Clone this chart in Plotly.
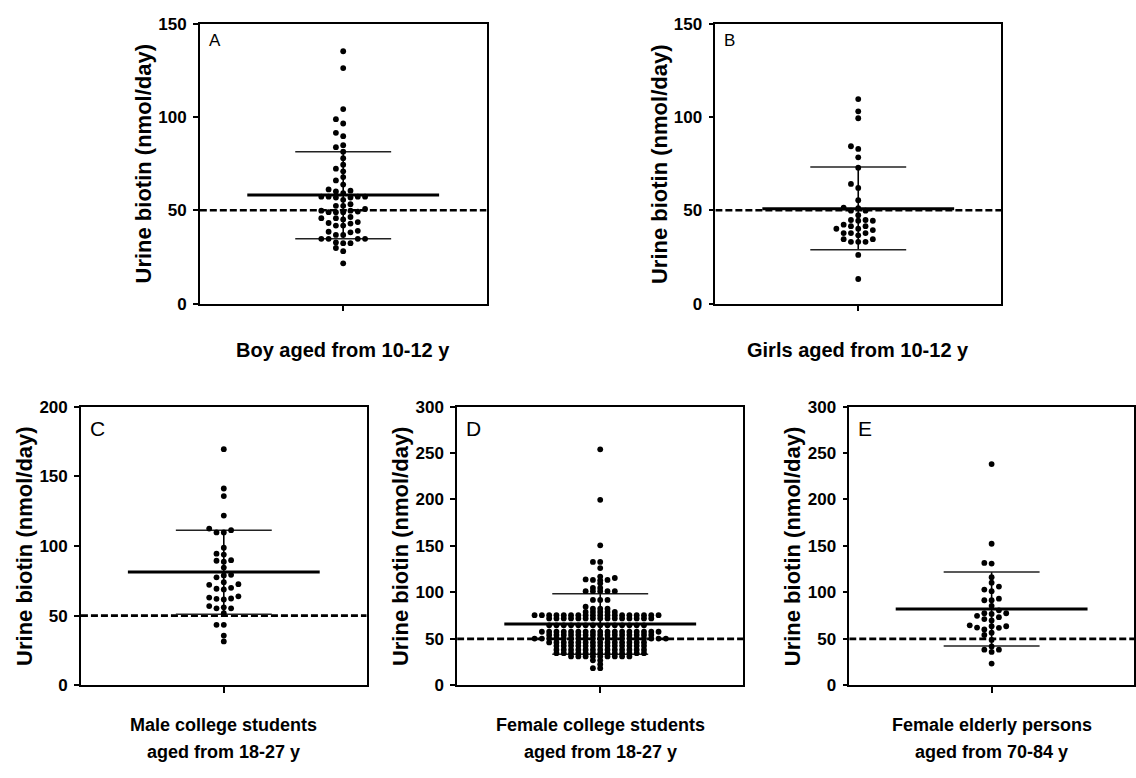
import numpy as np
import plotly.graph_objects as go

# ---------------- data ----------------
panel_letters = ["A", "B", "C", "D", "E"]
group_label_line1 = [
    "Boy aged from 10-12 y",
    "Girls aged from 10-12 y",
    "Male college students",
    "Female college students",
    "Female elderly persons",
]
group_label_line2 = ["", "", "aged from 18-27 y", "aged from 18-27 y", "aged from 70-84 y"]
y_max = [150, 150, 200, 300, 300]
y_ticks = [
    [0, 50, 100, 150],
    [0, 50, 100, 150],
    [0, 50, 100, 150, 200],
    [0, 50, 100, 150, 200, 250, 300],
    [0, 50, 100, 150, 200, 250, 300],
]
reference_value = 50
y_title = "Urine biotin (nmol/day)"

boys_10_12 = [135.2, 126.2, 104.2, 98.8, 96.5, 91.5, 89.7, 84.9, 83.8, 81.4, 77.9,
              74.4, 72.3, 70.9, 67.8, 66.0, 63.8, 61.2, 60.1, 59.2, 60.5, 57.3, 57.3,
              57.3, 57.3, 56.8, 56.8, 55.6, 53.3, 52.4, 52.4, 50.7, 49.3, 49.0, 49.8,
              49.8, 49.0, 49.0, 45.8, 46.4, 45.8, 45.1, 43.7, 42.9, 43.2, 41.8, 41.8,
              38.5, 38.2, 39.0, 36.8, 36.8, 34.7, 34.7, 34.7, 34.7, 32.8, 32.4, 32.4,
              29.8, 28.1, 21.6]
girls_10_12 = [109.6, 103.0, 99.3, 84.3, 82.9, 78.4, 72.8, 64.1, 62.0, 55.4, 51.4,
               51.2, 49.8, 49.8, 47.4, 44.8, 44.8, 44.4, 44.4, 42.3, 41.5, 41.5, 40.1,
               40.1, 39.4, 37.8, 37.8, 37.8, 36.6, 34.5, 34.5, 33.1, 33.1, 33.1, 26.1,
               13.2]
male_college = [169.4, 141.2, 135.8, 121.8, 112.5, 111.3, 109.7, 109.7, 98.7, 94.5,
                93.8, 89.8, 88.7, 89.4, 84.5, 79.3, 78.9, 77.5, 74.0, 72.6, 72.1, 70.0,
                69.3, 68.8, 63.9, 63.0, 62.1, 62.3, 61.6, 56.9, 56.0, 55.3, 55.3, 51.8,
                43.4, 43.4, 35.7, 31.5]
female_college = ([254.0, 199.6, 150.7, 132.8, 132.8, 126.2, 117.1,
                   114.0, 113.5, 113.5, 113.0, 115.5, 109.8, 104.8, 104.8,
                   101.4, 101.4, 101.4, 101.4, 101.4, 91.9, 91.9, 91.9, 84.6,
                   82.5, 82.5, 82.5, 79.0, 79.0, 79.0, 79.0, 79.0]
                  + [75.5] * 18 + [72.0] * 15 + [64.6] * 14 + [57.7] * 17
                  + [54.2] * 15 + [50.3] * 19 + [46.2] * 14 + [42.6] * 13
                  + [38.4] * 13 + [34.6] * 13 + [31.1] * 9
                  + [26.9, 26.9, 22.7, 18.5, 18.5])
female_elderly = [238.1, 152.4, 131.1, 131.8, 116.4, 110.5, 106.3, 103.1, 101.4, 93.3,
                  91.6, 91.6, 85.6, 80.7, 77.6, 77.6, 76.9, 74.8, 73.4, 71.3, 69.9, 64.6,
                  63.6, 63.6, 61.9, 62.2, 60.1, 56.6, 54.2, 48.9, 41.9, 38.4, 38.4, 36.0,
                  23.4]
group_values = [boys_10_12, girls_10_12, male_college, female_college, female_elderly]

group_mean = [58.2, 50.8, 81.4, 66.1, 82.1]
group_sd_upper = [81.3, 73.2, 111.3, 98.6, 122.0]
group_sd_lower = [34.8, 28.9, 51.0, 33.6, 42.3]

# ---------------- layout geometry (pixels) ----------------
W, H = 1136, 778
boxes = [  # left, right, top, bottom
    (200, 487, 15, 302),
    (716, 1002, 15, 302),
    (81, 367, 407.5, 693.3),
    (457.5, 744, 407.5, 693.3),
    (850, 1135, 407.5, 693.3),
]
swarm_thr_px = [5.6, 5.6, 5.6, 3.0, 5.6]
DOT_GAP_PX = 7.3
MEAN_HALF_PX = 96
SD_HALF_PX = 48


def swarm_columns(values, px_per_unit, thr_px):
    vals = np.asarray(values, float)
    order = np.argsort(vals, kind="stable")
    placed = {}
    cols = np.zeros(len(vals), int)
    seq = [0] + [s * j for j in range(1, 60) for s in (-1, 1)]
    for i in order:
        y = vals[i] * px_per_unit
        for c in seq:
            if all(abs(y - yy) >= thr_px for yy in placed.get(c, [])):
                break
        placed.setdefault(c, []).append(y)
        cols[i] = c
    return cols


fig = go.Figure()
FAM = "Liberation Sans, Arial, sans-serif"
BOLD = dict(family=FAM, color="black", weight="bold")

for p in range(5):
    L, R, T, B = boxes[p]
    ax = "" if p == 0 else str(p + 1)
    xa, ya = "x" + ax, "y" + ax
    half_w = (R - L) / 2.0
    px_per_unit = (B - T) / y_max[p]
    vals = group_values[p]
    cols = swarm_columns(vals, px_per_unit, swarm_thr_px[p])
    xs = cols * DOT_GAP_PX / half_w

    fig.add_trace(go.Scatter(x=[-1, 1], y=[reference_value, reference_value], mode="lines",
                             line=dict(color="black", width=2.6, dash="7px,3px"),
                             xaxis=xa, yaxis=ya, hoverinfo="skip", showlegend=False))
    sh = SD_HALF_PX / half_w
    mh = MEAN_HALF_PX / half_w
    fig.add_trace(go.Scatter(x=[0, 0], y=[group_sd_lower[p], group_sd_upper[p]], mode="lines",
                             line=dict(color="black", width=1.6), xaxis=xa, yaxis=ya,
                             hoverinfo="skip", showlegend=False))
    for v in (group_sd_lower[p], group_sd_upper[p]):
        fig.add_trace(go.Scatter(x=[-sh, sh], y=[v, v], mode="lines",
                                 line=dict(color="#222", width=1.5), xaxis=xa, yaxis=ya,
                                 hoverinfo="skip", showlegend=False))
    fig.add_trace(go.Scatter(x=[-mh, mh], y=[group_mean[p], group_mean[p]], mode="lines",
                             line=dict(color="black", width=3), xaxis=xa, yaxis=ya,
                             hoverinfo="skip", showlegend=False))
    fig.add_trace(go.Scatter(x=xs, y=vals, mode="markers",
                             marker=dict(color="black", size=5.8, line=dict(width=0)),
                             xaxis=xa, yaxis=ya, showlegend=False))

    xdom = [L / W, R / W]
    ydom = [1 - B / H, 1 - T / H]
    fig.update_layout(**{
        "xaxis" + ax: dict(domain=xdom, range=[-1, 1], anchor=ya, showline=True, mirror=True,
                           linecolor="black", linewidth=1.5, showgrid=False, zeroline=False,
                           ticks="outside", ticklen=6, tickwidth=1.5, tickcolor="black",
                           tickvals=[0], ticktext=[""], fixedrange=True),
        "yaxis" + ax: dict(domain=ydom, range=[0, y_max[p]], anchor=xa, showline=True,
                           mirror=True, linecolor="black", linewidth=1.5, showgrid=False,
                           zeroline=False, ticks="outside", ticklen=5, tickwidth=1.5,
                           tickcolor="black", tickvals=y_ticks[p],
                           tickfont=dict(size=17, **BOLD), ticklabelstandoff=3),
    })

    fig.add_annotation(text=y_title, textangle=-90, xref="paper", yref="paper",
                       x=(L - 56) / W, y=1 - (T + B) / 2 / H, showarrow=False,
                       xanchor="center", yanchor="middle", font=dict(size=22, **BOLD))
    top_row = p < 2
    fig.add_annotation(text=panel_letters[p], xref="paper", yref="paper",
                       x=(L + 7) / W,
                       y=1 - (T + (17 if top_row else 22)) / H, showarrow=False,
                       xanchor="left", yanchor="middle",
                       font=dict(size=17 if top_row else 21, family=FAM, color="black"))
    if top_row:
        fig.add_annotation(text=group_label_line1[p], xref="paper", yref="paper",
                           x=(L + R) / 2 / W, y=1 - 350 / H, showarrow=False,
                           xanchor="center", yanchor="middle", font=dict(size=20, **BOLD))
    else:
        for txt, yy in ((group_label_line1[p], 734), (group_label_line2[p], 762)):
            fig.add_annotation(text=txt, xref="paper", yref="paper",
                               x=(L + R) / 2 / W, y=1 - yy / H, showarrow=False,
                               xanchor="center", yanchor="middle",
                               font=dict(size=18, **BOLD))

fig.update_layout(width=W, height=H, margin=dict(l=0, r=0, t=0, b=0),
                  paper_bgcolor="white", plot_bgcolor="white", showlegend=False)
fig.write_html("out.html")
